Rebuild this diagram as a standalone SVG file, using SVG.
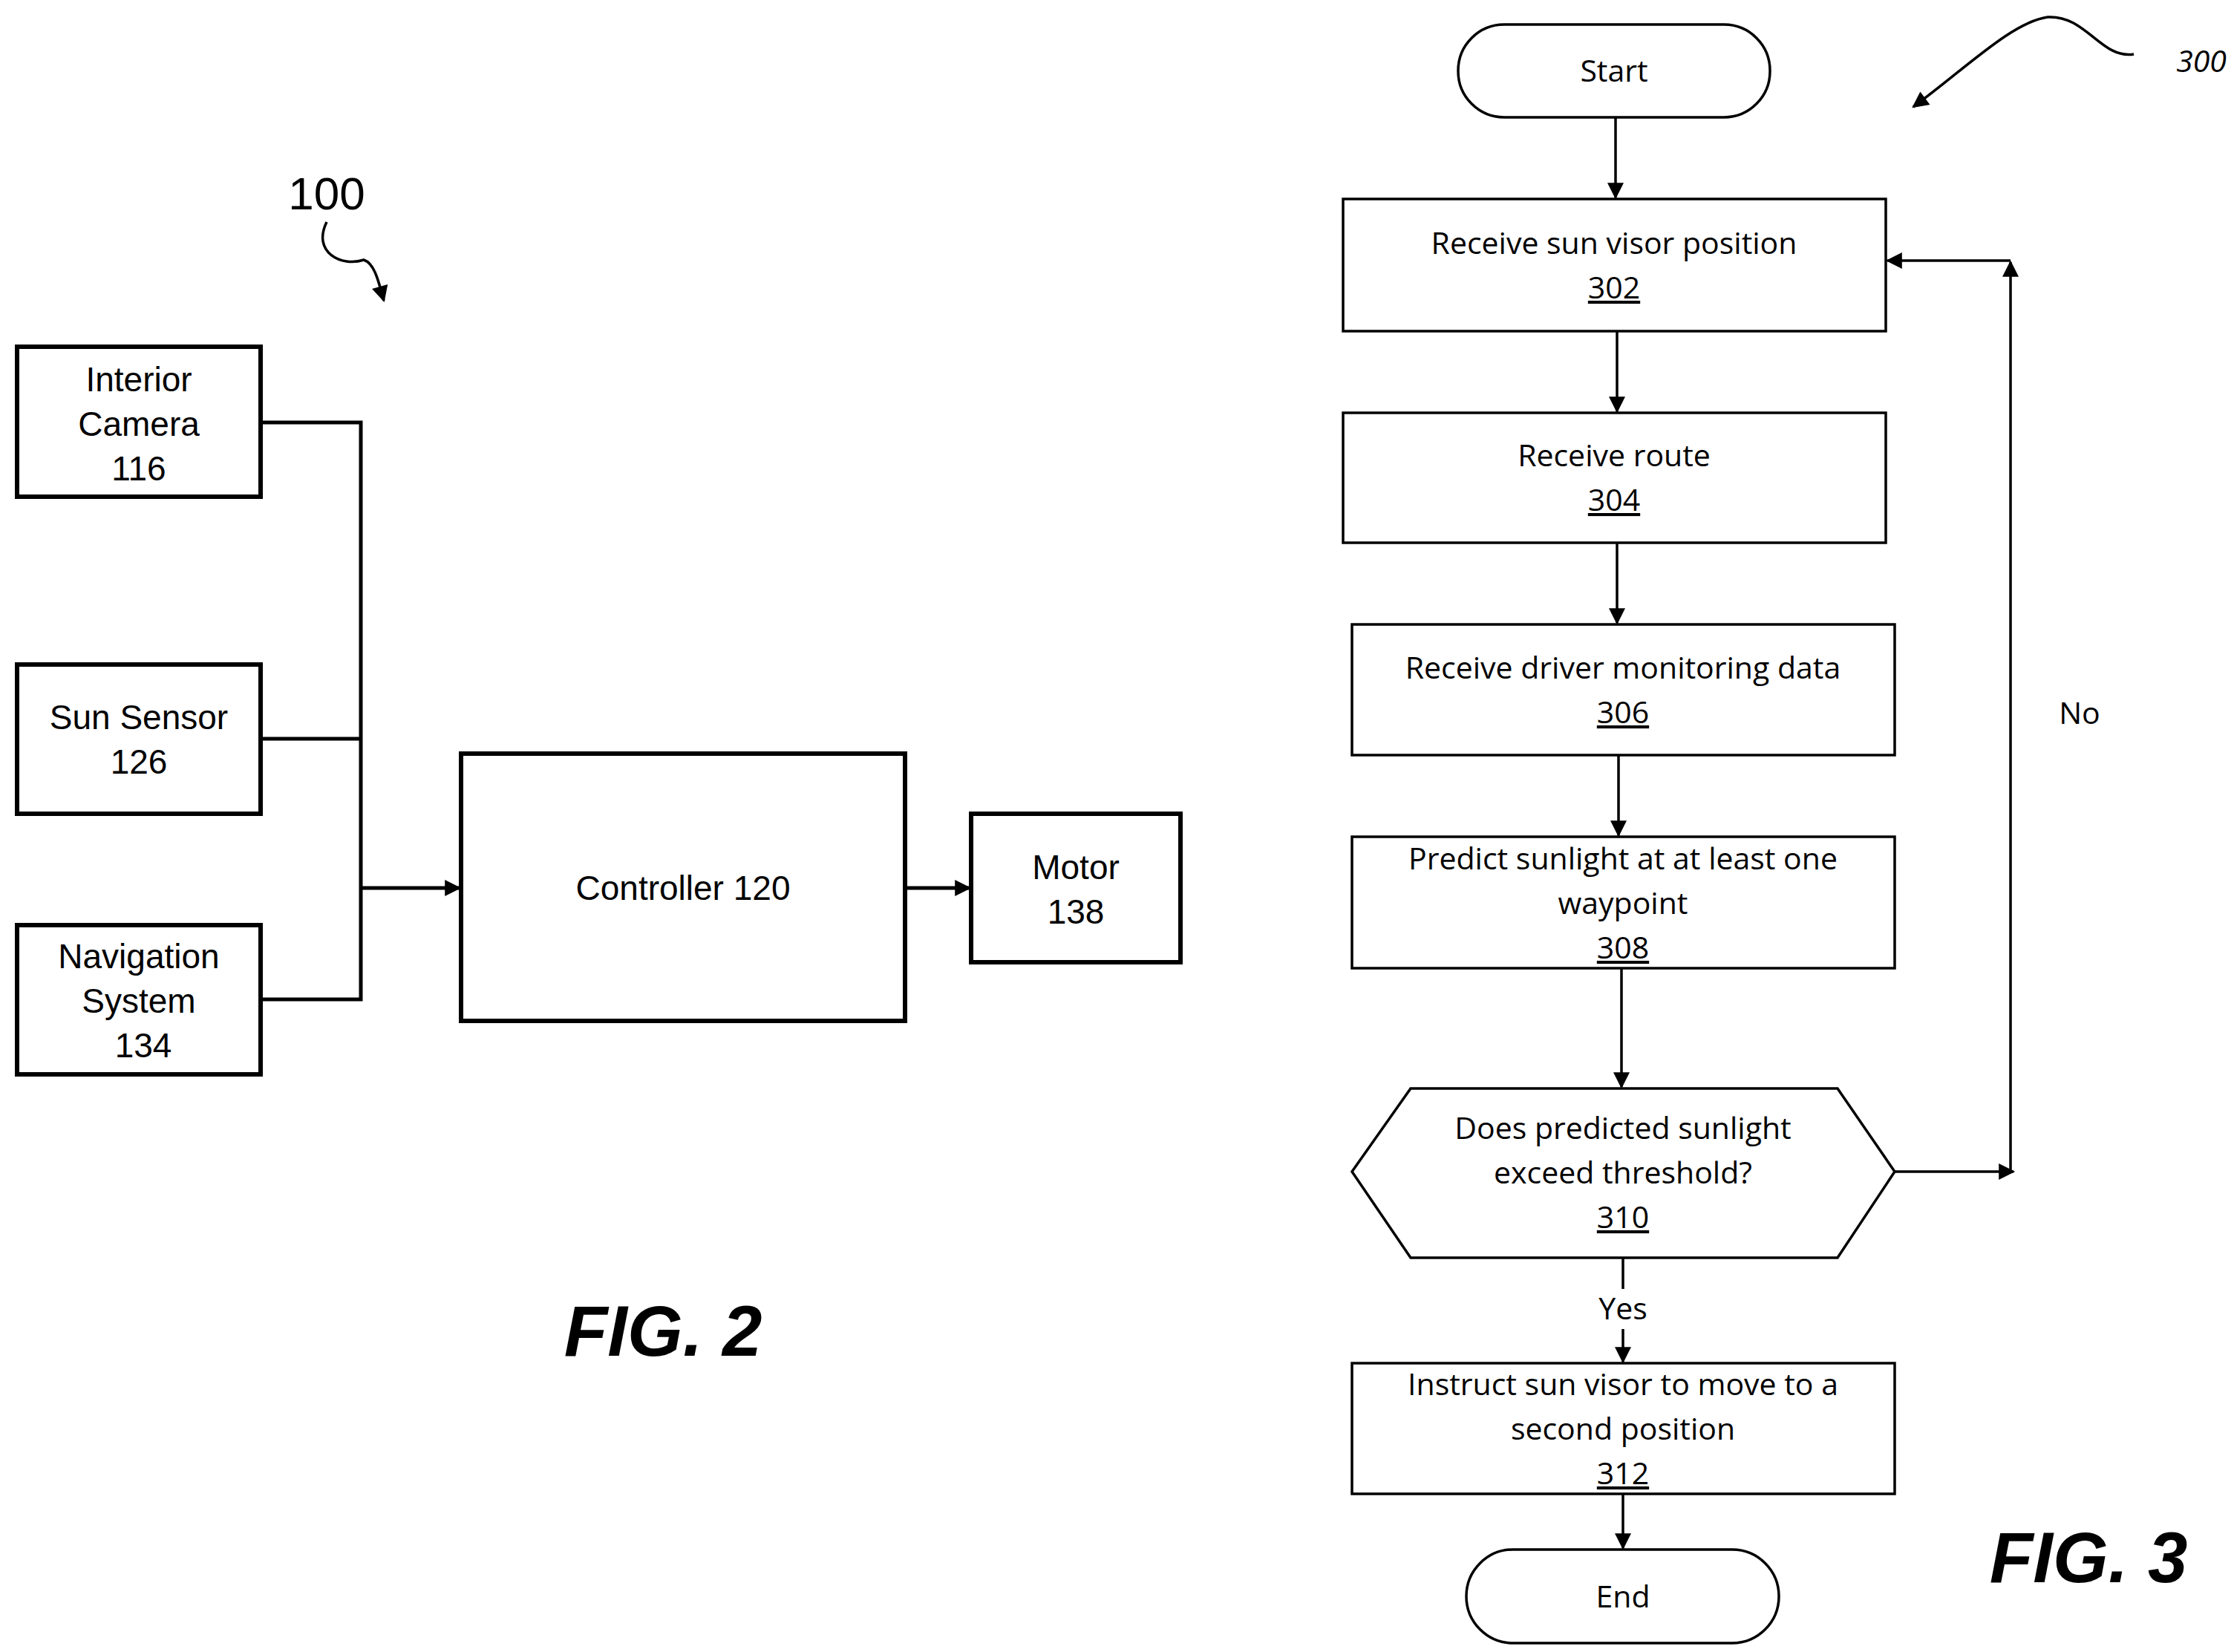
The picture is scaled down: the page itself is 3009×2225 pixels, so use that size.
<svg xmlns="http://www.w3.org/2000/svg" width="3009" height="2225" viewBox="0 0 3009 2225">
<style>
.b{fill:#fff;stroke:#000;stroke-width:6}
.f{fill:#fff;stroke:#000;stroke-width:3.5}
.l{fill:none;stroke:#000;stroke-width:5}
.c{fill:none;stroke:#000;stroke-width:3.5}
.t{font-family:"Liberation Sans",Arial,sans-serif;font-size:46px;text-anchor:middle}
.o{font-family:"Open Sans","Noto Sans",sans-serif;font-size:41px;text-anchor:middle}
.fig{font-family:"Liberation Sans",Arial,sans-serif;font-size:96px;font-weight:bold;font-style:italic;text-anchor:middle}
</style>
<defs>
<marker id="a" markerWidth="10" markerHeight="10" refX="9" refY="5" orient="auto" markerUnits="userSpaceOnUse" viewBox="0 0 10 10"><path d="M0,0L10,5L0,10z"/></marker>
<marker id="m" viewBox="0 0 10 10" refX="9" refY="5" markerWidth="26" markerHeight="22" orient="auto" markerUnits="userSpaceOnUse"><path d="M0,0L10,5L0,10z"/></marker>
</defs>
<g id="connectors">
<path class="l" d="M351,569H486V1346H351M351,995H486"/>
<path class="l" d="M486,1196H619" marker-end="url(#m)"/>
<path class="l" d="M1219,1196H1306" marker-end="url(#m)"/>
<path class="c" d="M440,299C420,340 460,360 490,350C505,355 510,380 517,405" marker-end="url(#m)"/>
<path class="c" d="M2176,158V266" marker-end="url(#m)"/>
<path class="c" d="M2178,446V554" marker-end="url(#m)"/>
<path class="c" d="M2178,731V839" marker-end="url(#m)"/>
<path class="c" d="M2180,1017V1125" marker-end="url(#m)"/>
<path class="c" d="M2184,1304V1464" marker-end="url(#m)"/>
<path class="c" d="M2552,1578H2712" marker-end="url(#m)"/>
<path class="c" d="M2708,1578V353" marker-end="url(#m)"/>
<path class="c" d="M2708,351H2542" marker-end="url(#m)"/>
<path class="c" d="M2186,1694V1736M2186,1790V1834" marker-end="url(#m)"/>
<path class="c" d="M2186,2012V2085" marker-end="url(#m)"/>
<path class="c" d="M2874,73C2830,80 2810,20 2758,23C2710,30 2650,90 2577,144" marker-end="url(#m)"/>
</g>
<g id="n116"><rect class="b" x="23" y="467" width="328" height="202"/><text class="t" x="187" y="527">Interior</text><text class="t" x="187" y="587">Camera</text><text class="t" x="187" y="647">116</text></g>
<g id="n126"><rect class="b" x="23" y="895" width="328" height="201"/><text class="t" x="187" y="982">Sun Sensor</text><text class="t" x="187" y="1042">126</text></g>
<g id="n134"><rect class="b" x="23" y="1246" width="328" height="201"/><text class="t" x="187" y="1304">Navigation</text><text class="t" x="187" y="1364">System</text><text class="t" x="193" y="1424">134</text></g>
<g id="n120"><rect class="b" x="621" y="1015" width="598" height="360"/><text class="t" x="920" y="1212">Controller 120</text></g>
<g id="n138"><rect class="b" x="1308" y="1096" width="282" height="200"/><text class="t" x="1449" y="1184">Motor</text><text class="t" x="1449" y="1244">138</text></g>
<text class="t" x="440" y="282" style="font-size:62px">100</text>
<text class="fig" x="893" y="1826">FIG. 2</text>
<g id="start"><rect class="f" x="1964" y="33" width="420" height="125" rx="62"/><text class="o" x="2174" y="110">Start</text></g>
<g id="s302"><rect class="f" x="1809" y="268" width="731" height="178"/><text class="o" x="2174" y="342">Receive sun visor position</text><text class="o" x="2174" y="402" text-decoration="underline">302</text></g>
<g id="s304"><rect class="f" x="1809" y="556" width="731" height="175"/><text class="o" x="2174" y="628">Receive route</text><text class="o" x="2174" y="688" text-decoration="underline">304</text></g>
<g id="s306"><rect class="f" x="1821" y="841" width="731" height="176"/><text class="o" x="2186" y="914">Receive driver monitoring data</text><text class="o" x="2186" y="974" text-decoration="underline">306</text></g>
<g id="s308"><rect class="f" x="1821" y="1127" width="731" height="177"/><text class="o" x="2186" y="1171">Predict sunlight at at least one</text><text class="o" x="2186" y="1231">waypoint</text><text class="o" x="2186" y="1291" text-decoration="underline">308</text></g>
<g id="s310"><path class="f" d="M1821,1578L1900,1466H2475L2552,1578L2475,1694H1900Z"/><text class="o" x="2186" y="1534">Does predicted sunlight</text><text class="o" x="2186" y="1594">exceed threshold?</text><text class="o" x="2186" y="1654" text-decoration="underline">310</text></g>
<g id="s312"><rect class="f" x="1821" y="1836" width="731" height="176"/><text class="o" x="2186" y="1879">Instruct sun visor to move to a</text><text class="o" x="2186" y="1939">second position</text><text class="o" x="2186" y="1999" text-decoration="underline">312</text></g>
<g id="end"><rect class="f" x="1975" y="2087" width="421" height="126" rx="63"/><text class="o" x="2186" y="2165">End</text></g>
<text class="o" x="2801" y="975">No</text>
<text class="o" x="2186" y="1777">Yes</text>
<text class="o" x="2965" y="97" font-style="italic">300</text>
<text class="fig" x="2813" y="2131">FIG. 3</text>
</svg>
